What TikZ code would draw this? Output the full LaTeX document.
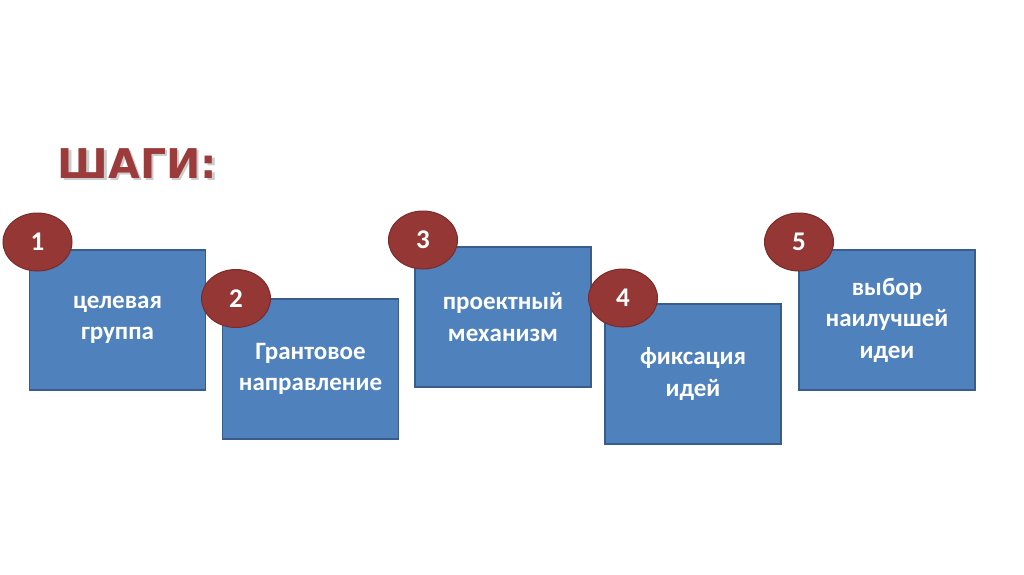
\documentclass[tikz,border=0pt]{standalone}
\usepackage{fontspec}
\setmainfont{Carlito}
\newfontfamily\titlefont{DejaVu Sans}
\definecolor{boxblue}{HTML}{4F81BD}
\definecolor{boxedge}{HTML}{385D8A}
\definecolor{dotred}{HTML}{953735}
\definecolor{dotedge}{HTML}{7A2C2A}
\definecolor{titlered}{HTML}{9B3B3B}
\usetikzlibrary{shapes.geometric}
\tikzset{
  stepbox/.style={draw=boxedge, line width=1.3pt, fill=boxblue, minimum width=176pt, minimum height=140pt, inner sep=0pt, text=white, align=center, font=\bfseries\fontsize{25}{31.5}\selectfont},
  numdot/.style={ellipse, draw=dotedge, line width=1pt, fill=dotred, minimum width=69pt, minimum height=58pt, inner sep=0pt, text=white, font=\bfseries\fontsize{27}{30}\selectfont},
  titletext/.style={font=\titlefont\bfseries\fontsize{41}{46}\selectfont, anchor=west, inner sep=0pt}
}
\begin{document}
\begin{tikzpicture}[x=1pt,y=-1pt]
\useasboundingbox (0,0) rectangle (1024,574);
\fill[white] (0,0) rectangle (1024,574);
\node[titletext, text=gray!40] (titleshadow) at (60,166) {ШАГИ:};
\node[titletext, text=titlered] (title) at (57.5,163.5) {ШАГИ:};
\node[stepbox] (b1) at (117.5,320) {целевая\\группа};
\node[stepbox] (b2) at (310.5,369) {Грантовое\\направление};
\node[stepbox] (b3) at (503,317) {проектный\\механизм};
\node[stepbox] (b4) at (693,374) {фиксация\\идей};
\node[stepbox] (b5) at (887,320) {выбор\\наилучшей\\идеи};
\node[numdot] (n1) at (37.5,242) {1};
\node[numdot] (n2) at (236,298.5) {2};
\node[numdot] (n3) at (423,240) {3};
\node[numdot] (n4) at (623,298) {4};
\node[numdot] (n5) at (799,242) {5};
\end{tikzpicture}
\end{document}
